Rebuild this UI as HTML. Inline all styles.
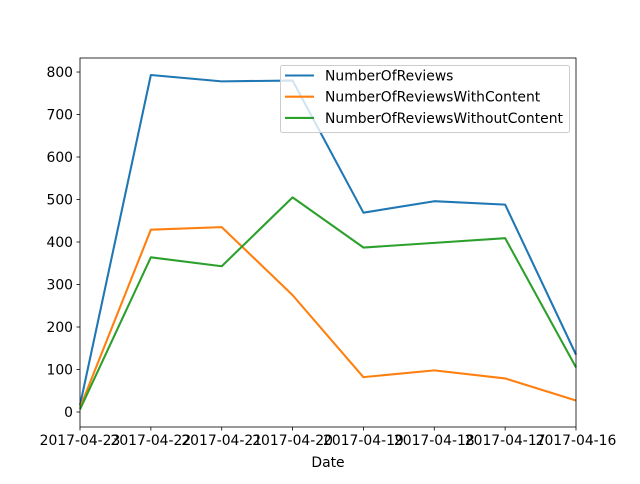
<!DOCTYPE html>
<html><head><meta charset="utf-8"><style>
body{margin:0;background:#fff;font-family:"DejaVu Sans","Liberation Sans",sans-serif;}
text{font-family:"DejaVu Sans","Liberation Sans",sans-serif;font-size:13.9px;fill:#000;}
</style></head><body>
<svg id="chart" width="640" height="480" xmlns="http://www.w3.org/2000/svg"></svg>
<script>
const categories=["2017-04-23","2017-04-22","2017-04-21","2017-04-20","2017-04-19","2017-04-18","2017-04-17","2017-04-16"];
const reviews=[16,793,778,780,469,496,488,135];
const withContent=[10,429,435,275,82,98,79,27];
const withoutContent=[6,364,343,505,387,398,409,105];
const yTicks=[0,100,200,300,400,500,600,700,800];
const seriesNames=["NumberOfReviews","NumberOfReviewsWithContent","NumberOfReviewsWithoutContent"];
const colors=["#1f77b4","#ff7f0e","#2ca02c"];
const L=80,R=576,T=58,B=427,ymin=-35.3,ymax=833;
const x=i=>L+i*(R-L)/(categories.length-1);
const y=v=>B-(v-ymin)*(B-T)/(ymax-ymin);
const svg=document.getElementById('chart');
const NS="http://www.w3.org/2000/svg";
function mk(t,a,p){const e=document.createElementNS(NS,t);for(const k in a)e.setAttribute(k,a[k]);(p||svg).appendChild(e);return e;}
categories.forEach((c,i)=>{
 const tk=mk('line',{x1:x(i),x2:x(i),y1:B,y2:B+3.5,stroke:'#000','stroke-width':0.8});
 
 
 const t=mk('text',{x:x(i),y:B+18,'text-anchor':'middle'});t.textContent=c;
 
 
});
yTicks.forEach(v=>{
 const tk=mk('line',{x1:L-3.5,x2:L,y1:y(v),y2:y(v),stroke:'#000','stroke-width':0.8});
 
 
 const t=mk('text',{x:L-7,y:y(v)+5,'text-anchor':'end'});t.textContent=v;
 
 
});
[reviews,withContent,withoutContent].forEach((s,k)=>{
 const p=mk('polyline',{points:s.map((v,i)=>x(i)+','+y(v)).join(' '),fill:'none',stroke:colors[k],'stroke-width':2.08,'stroke-linejoin':'round'});
 
 
});
const fr=mk('rect',{x:L,y:T,width:R-L,height:B-T,fill:'none',stroke:'#000','stroke-width':0.8});


const xl=mk('text',{x:(L+R)/2,y:467,'text-anchor':'middle'});xl.textContent='Date';


const lg=mk('g',{});


mk('rect',{x:280.5,y:65.5,width:289,height:67,rx:2,fill:'#fff','fill-opacity':0.8,stroke:'#ccc'},lg);
seriesNames.forEach((n,k)=>{
 const yy=75.5+k*21.2;
 mk('line',{x1:285,x2:314,y1:yy,y2:yy,stroke:colors[k],'stroke-width':2.08},lg);
 const t=mk('text',{x:325,y:yy+5},lg);t.textContent=n;
 
 
});
</script>
</body></html>
